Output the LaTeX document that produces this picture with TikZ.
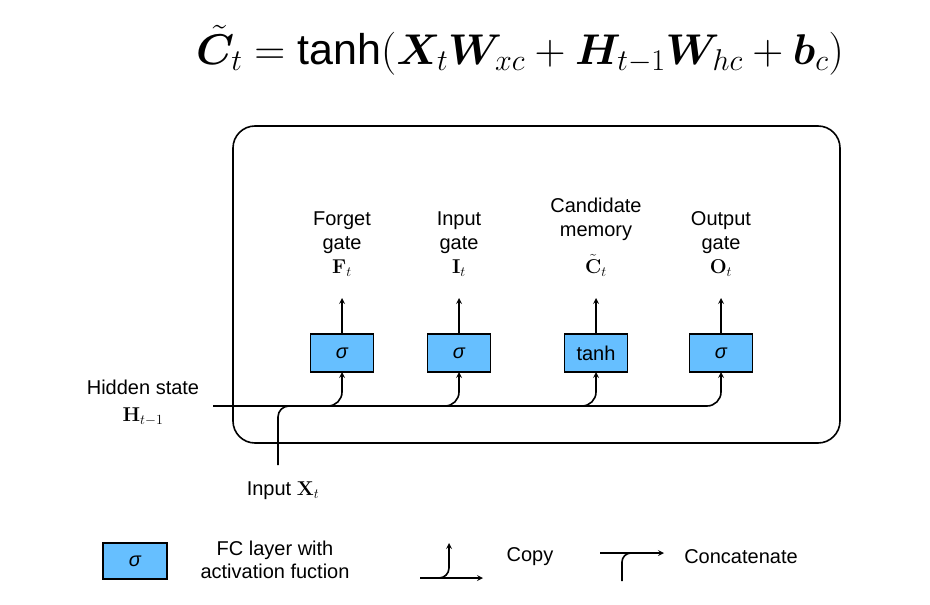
\RequirePackage{fix-cm}
\documentclass[tikz,border=0pt]{standalone}
\usepackage{amsmath}
\usepackage{bm}
\usepackage[no-math]{fontspec}
\setmainfont{Liberation Sans}
\usepackage{tikz}

\definecolor{fcblue}{RGB}{102,191,255}

\begin{document}
\begin{tikzpicture}[x=1pt, y=-1pt, outer sep = 0pt, line width=1.6pt, >=stealth]

\tikzstyle{gate}=[draw, rectangle, fill=fcblue, minimum height=38pt, minimum width=63pt, font=\fontsize{20}{22}\selectfont]
\tikzstyle{lab}=[align=center, anchor=south, inner sep=0pt, font=\fontsize{20}{24}\selectfont]
\tikzstyle{txt}=[align=center, font=\fontsize{20}{23}\selectfont]

\useasboundingbox (0,0) rectangle (930,605);

% equation
\node (eq) at (520,50) {\fontsize{43}{47}\selectfont $\tilde{\bm{C}}_t = \text{tanh}(\bm{X}_t\bm{W}_{xc} + \bm{H}_{t-1}\bm{W}_{hc} + \bm{b}_c)$};

% cell
\node[draw, rounded corners=22pt, minimum width=607pt, minimum height=317pt] (cell) at (536.5,284.5) {};

\node[gate] (f) at (342,353) {\itshape σ}; \node[gate] (i) at (459,353) {\itshape σ};
\node[gate] (c) at (596,353) {tanh}; \node[gate] (o) at (721,353) {\itshape σ};

\node[lab] (flab) at (342,276) {Forget\\gate\\$\mathbf{F}_t$}; \node[lab] (ilab) at (459,276) {Input\\gate\\$\mathbf{I}_t$};
\node[lab] (clab) at (596,276) {Candidate\\memory\\[13pt]$\tilde{\mathbf{C}}_t$}; \node[lab] (olab) at (721,276) {Output\\gate\\$\mathbf{O}_t$};

\draw[->, shorten >=22pt] (f.north) -- (flab.south); \draw[->, shorten >=22pt] (i.north) -- (ilab.south);
\draw[->, shorten >=22pt] (c.north) -- (clab.south); \draw[->, shorten >=22pt] (o.north) -- (olab.south);

% hidden state and input
\node[txt] (hlab) at (143,403) {Hidden state\\[4pt]$\mathbf{H}_{t-1}$};
\coordinate (hin) at (213,406);
\node[txt] (xlab) at (283,491) {Input $\mathbf{X}_t$};
\coordinate (xin) at (278,465);

\draw[->, rounded corners=14pt] (hin) -- (f.south |- hin) -- (f.south);
\draw[->, rounded corners=14pt] (hin) -- (i.south |- hin) -- (i.south);
\draw[->, rounded corners=14pt] (hin) -- (c.south |- hin) -- (c.south);
\draw[->, rounded corners=14pt] (hin) -- (o.south |- hin) -- (o.south);
\draw[rounded corners=11pt] (xin) -- (xin |- hin) -- ++(22,0);

% legend
\node[gate, minimum width=64pt, minimum height=36pt] (lg) at (135,561) {\itshape σ};
\node[txt] (lgtxt) at (275,560) {FC layer with\\activation fuction};

\coordinate (cpa) at (420,578); \coordinate (cpb) at (483,578); \coordinate (cpc) at (449,543);
\draw[->] (cpa) -- (cpb);
\draw[->, rounded corners=10pt] (cpa) ++(18,0) -- (cpc |- cpa) -- (cpc);
\node[txt] (cptxt) at (530,557) {Copy};

\coordinate (cca) at (600,553); \coordinate (ccb) at (664,553); \coordinate (ccc) at (622,581);
\draw[->] (cca) -- (ccb);
\draw[rounded corners=9pt] (ccc) -- (ccc |- cca) -- ++(14,0);
\node[txt] (cctxt) at (741,557) {Concatenate};

\end{tikzpicture}
\end{document}
